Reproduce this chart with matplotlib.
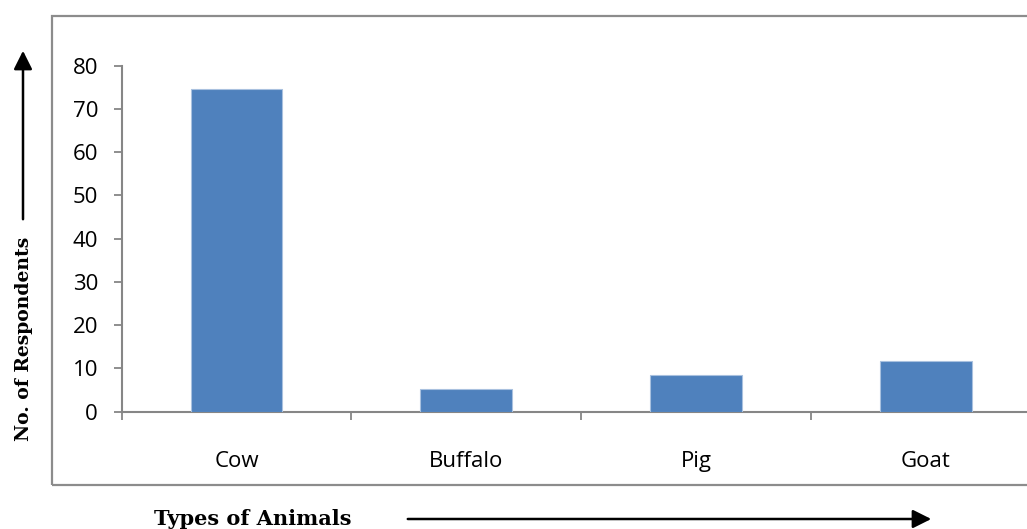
import matplotlib.pyplot as plt
from matplotlib.patches import Rectangle, FancyArrowPatch

# data
animals = ['Cow', 'Buffalo', 'Pig', 'Goat']
respondents = [74.6, 5.2, 8.5, 11.7]
y_ticks = [0, 10, 20, 30, 40, 50, 60, 70, 80]

bar_color = '#4F81BD'
axis_grey = '#868686'

fig = plt.figure(figsize=(10.27, 5.29), dpi=100)
ax = fig.add_axes([0.1185, 0.2217, 0.8946, 0.6541])

x = range(len(animals))
ax.bar(x, respondents, width=0.4, color=bar_color, edgecolor='#A9C1DF', linewidth=0.8, zorder=3)

ax.set_xlim(-0.5, len(animals) - 0.5)
ax.set_ylim(0, 80)
ax.set_yticks(y_ticks)

# category labels centred, tick marks at the boundaries
ax.set_xticks(list(x))
ax.set_xticklabels(animals)
ax.set_xticks([i - 0.5 for i in range(len(animals) + 1)], minor=True)
ax.tick_params(axis='x', which='major', length=0, pad=28)
ax.tick_params(axis='x', which='minor', length=6, width=1.3, color=axis_grey, direction='out')
ax.tick_params(axis='y', length=6, width=1.3, color=axis_grey, pad=11)

for lab in ax.get_xticklabels() + ax.get_yticklabels():
    lab.set_fontfamily('Open Sans')
    lab.set_fontsize(16)
    lab.set_color('black')

for side in ['top', 'right']:
    ax.spines[side].set_visible(False)
for side in ['left', 'bottom']:
    ax.spines[side].set_color(axis_grey)
    ax.spines[side].set_linewidth(1.5)

# outer chart frame
frame = Rectangle((52 / 1027, 1 - 485 / 529), 1.2, (485 - 16) / 529,
                  transform=fig.transFigure, fill=False, edgecolor='#8C8C8C',
                  linewidth=1.6, clip_on=False)
fig.patches.append(frame)

# axis titles with arrows
fig.text(24 / 1027, 1 - 339 / 529, 'No. of Respondents', rotation=90,
         ha='center', va='center', fontsize=13.5, fontweight='heavy',
         family='DejaVu Serif')
fig.text(253 / 1027, 1 - 519 / 529, 'Types of Animals', ha='center', va='center',
         fontsize=15, fontweight='heavy', family='DejaVu Serif')

arrow_style = '-|>,head_length=0.8,head_width=0.4'
fig.patches.append(FancyArrowPatch(
    (23 / 1027, 1 - 222 / 529), (23 / 1027, 1 - 48 / 529),
    transform=fig.transFigure, arrowstyle=arrow_style,
    mutation_scale=14, color='black', linewidth=1.8))
fig.patches.append(FancyArrowPatch(
    (405 / 1027, 1 - 519 / 529), (934 / 1027, 1 - 519 / 529),
    transform=fig.transFigure, arrowstyle=arrow_style,
    mutation_scale=14, color='black', linewidth=1.8))

fig.savefig('out.png', dpi=100)
